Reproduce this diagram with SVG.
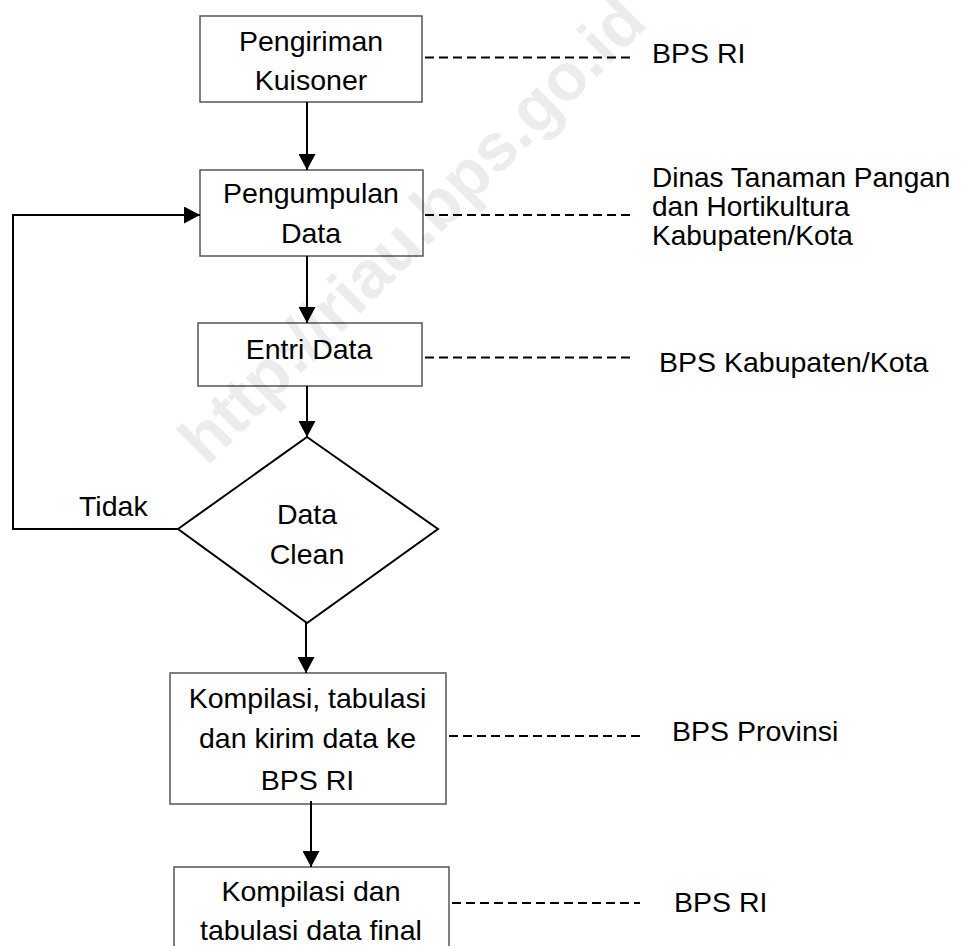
<svg xmlns="http://www.w3.org/2000/svg" width="967" height="946" viewBox="0 0 967 946">
<style>
  .box{fill:#fff;stroke:#555;stroke-width:1.5}
  .t{font-family:"Liberation Sans",Arial,sans-serif;font-size:28.5px;fill:#000}
  .s{font-size:28px}
  .c{text-anchor:middle}
  .line{fill:none;stroke:#000;stroke-width:2}
  .dash{fill:none;stroke:#000;stroke-width:2.2;stroke-dasharray:9 5}
  .wm{font-family:"Liberation Sans",Arial,sans-serif;font-weight:bold;font-size:67px;fill:#000;fill-opacity:0.075}
</style>
<defs>
  <marker id="ah" viewBox="0 0 16 17" refX="16" refY="8.5" markerWidth="16" markerHeight="17" markerUnits="userSpaceOnUse" orient="auto">
    <path d="M0,0 L16,8.5 L0,17 Z" fill="#000"/>
  </marker>
</defs>
<rect width="967" height="946" fill="#fff"/>

<g id="n1">
  <rect class="box" x="200" y="16" width="222" height="86"/>
  <text class="t c" x="311" y="51">Pengiriman</text>
  <text class="t c" x="311" y="90">Kuisoner</text>
</g>
<g id="n2">
  <rect class="box" x="200" y="170" width="223" height="86"/>
  <text class="t c" x="311" y="203">Pengumpulan</text>
  <text class="t c" x="311" y="243">Data</text>
</g>
<g id="n3">
  <rect class="box" x="198" y="323" width="224" height="63"/>
  <text class="t c" x="309" y="358.5">Entri Data</text>
</g>
<g id="n4">
  <polygon points="307,437 438,529 307,623 178,529" fill="#fff" stroke="#000" stroke-width="2"/>
  <text class="t c" x="307" y="524">Data</text>
  <text class="t c" x="307" y="564">Clean</text>
</g>
<g id="n5">
  <rect class="box" x="170" y="673" width="276" height="131"/>
  <text class="t c" x="307.5" y="708">Kompilasi, tabulasi</text>
  <text class="t c" x="307.5" y="748">dan kirim data ke</text>
  <text class="t c" x="307.5" y="790">BPS RI</text>
</g>
<g id="n6">
  <rect class="box" x="174" y="867" width="275" height="100"/>
  <text class="t c" x="311" y="901">Kompilasi dan</text>
  <text class="t c" x="311" y="940">tabulasi data final</text>
</g>

<g id="labels">
  <text class="t" x="652" y="63">BPS RI</text>
  <text class="t s" x="652" y="186.5">Dinas Tanaman Pangan</text>
  <text class="t s" x="652" y="215.5">dan Hortikultura</text>
  <text class="t s" x="652" y="244.5">Kabupaten/Kota</text>
  <text class="t" x="659" y="372">BPS Kabupaten/Kota</text>
  <text class="t" x="672" y="741">BPS Provinsi</text>
  <text class="t" x="674" y="912">BPS RI</text>
  <text class="t" x="79" y="516">Tidak</text>
</g>

<g id="connectors">
  <line class="line" x1="307" y1="102" x2="307" y2="170" marker-end="url(#ah)"/>
  <line class="line" x1="307" y1="256" x2="307" y2="323" marker-end="url(#ah)"/>
  <line class="line" x1="307" y1="386" x2="307" y2="437" marker-end="url(#ah)"/>
  <line class="line" x1="306" y1="623" x2="306" y2="673" marker-end="url(#ah)"/>
  <line class="line" x1="311" y1="801" x2="311" y2="867" marker-end="url(#ah)"/>
  <polyline class="line" points="178,529 13,529 13,215 200,215" marker-end="url(#ah)"/>
  <line class="dash" x1="425" y1="57.5" x2="632" y2="57.5"/>
  <line class="dash" x1="425" y1="215" x2="633" y2="215"/>
  <line class="dash" x1="425" y1="357.5" x2="632" y2="357.5"/>
  <line class="dash" x1="449" y1="736" x2="640" y2="736"/>
  <line class="dash" x1="452" y1="903" x2="640" y2="903"/>
</g>

<text class="wm" transform="translate(207,467) rotate(-45)">http://riau.bps.go.id</text>
</svg>
